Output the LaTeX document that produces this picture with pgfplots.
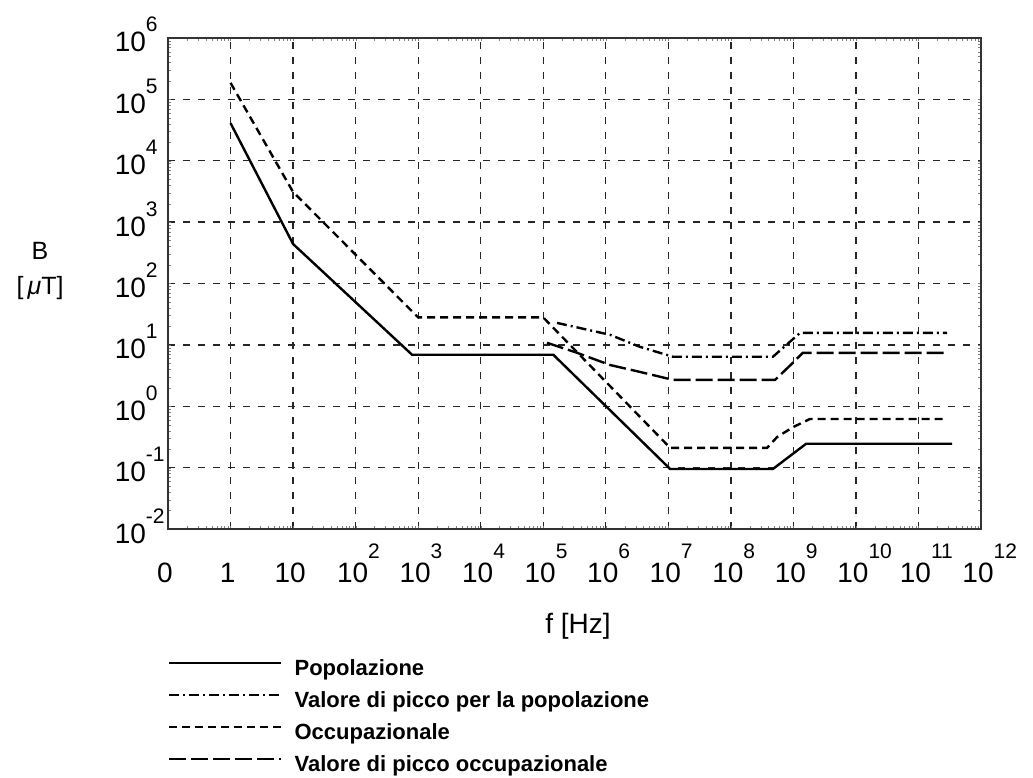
\documentclass[border=0pt]{standalone}
\usepackage{fontspec}
\setmainfont{Liberation Sans}
\usepackage{pgfplots}
\pgfplotsset{compat=1.18}

% tick labels: "10" with a raised exponent
\newcommand{\xn}[1]{\makebox[0pt][c]{#1}}
\newcommand{\xe}[1]{\makebox[0pt][c]{10\rlap{\raisebox{24pt}{\fontsize{21}{21}\selectfont #1}}}}
\newcommand{\ye}[1]{\llap{10}\rlap{\raisebox{20pt}{\fontsize{21}{21}\selectfont #1}}}

\begin{document}
\begin{tikzpicture}
\begin{axis}[
    at={(0,0)}, anchor=south west,
    scale only axis, width=813pt, height=491pt,
    xmode=log, ymode=log,
    xmin=0.1, xmax=1e12, ymin=1e-2, ymax=1e6,
    xtick={0.1,1,10,100,1e3,1e4,1e5,1e6,1e7,1e8,1e9,1e10,1e11,1e12},
    xticklabels={\xn{0},\xn{1},\xn{10},\xe{2},\xe{3},\xe{4},\xe{5},\xe{6},\xe{7},\xe{8},\xe{9},\xe{10},\xe{11},\xe{12}},
    ytick={1e-2,1e-1,1,10,100,1e3,1e4,1e5,1e6},
    yticklabels={\ye{-2},\ye{-1},\ye{0},\ye{1},\ye{2},\ye{3},\ye{4},\ye{5},\ye{6}},
    xticklabel style={anchor=base, inner sep=0pt, xshift=-3pt, yshift=-53pt, font=\fontsize{28}{30}\selectfont},
    yticklabel style={anchor=base, inner sep=0pt, xshift=-22pt, yshift=-14pt, font=\fontsize{28}{30}\selectfont},
    major tick length=0pt,
    grid=major,
    major grid style={black!85, line width=1.3pt, dash pattern=on 7pt off 8pt},
    axis line style={black!80, line width=1.6pt},
    xlabel={f [Hz]},
    xlabel style={at={(axis description cs:0.5043,0)}, anchor=base, yshift=-104pt, font=\fontsize{28}{30}\selectfont},
    ylabel={B\\{[}\,\textit{μ}T]},
    ylabel style={at={(axis description cs:-0.1574,0.5255)}, anchor=center, rotate=-90, align=center, font=\fontsize{25}{35}\selectfont},
    legend style={at={(0,-0.2648)}, anchor=north west, draw=none, fill=none,
        inner sep=0pt, row sep=11pt, column sep=12pt,
        nodes={inner sep=0pt, text height=16pt, text depth=5pt, font=\fontsize{22}{24}\selectfont\bfseries}},
    legend cell align=left,
    legend image code/.code={\draw[#1] (0pt,7pt) -- (112pt,7pt);},
]
% Popolazione
\addplot[black, line width=2.4pt] coordinates {
    (1,4.1e4) (10,440) (800,6.9) (1.45e5,6.9) (1.07e7,0.095) (4.7e8,0.095) (1.6e9,0.245) (3.44e11,0.245)
};
\addlegendentry{Popolazione}
% Valore di picco per la popolazione
\addplot[black, line width=2.4pt, dash pattern=on 10pt off 4pt on 2pt off 4pt] coordinates {
    (1.66e5,22.8) (1.17e6,14.6) (3.5e6,9.3) (1.19e7,6.4) (4.7e8,6.4) (1.28e9,15.7) (2.86e11,15.7)
};
\addlegendentry{Valore di picco per la popolazione}
% Occupazionale
\addplot[black, line width=2.4pt, dash pattern=on 8pt off 5pt] coordinates {
    (1,1.86e5) (10,3100) (1000,28) (1e5,28) (1.07e7,0.21) (3.8e8,0.21) (5.5e8,0.316) (1e9,0.46) (1.84e9,0.62) (2.45e11,0.62)
};
\addlegendentry{Occupazionale}
% Valore di picco occupazionale
\addplot[black, line width=2.4pt, dash pattern=on 17pt off 5pt] coordinates {
    (1.15e5,10.8) (3.5e5,7.4) (1.17e6,4.7) (3.5e6,3.63) (1.19e7,2.69) (5.1e8,2.69) (9.8e8,5.1) (1.41e9,7.4) (2.86e11,7.4)
};
\addlegendentry{Valore di picco occupazionale}
\end{axis}
\pgfresetboundingbox
\path (-168pt,-249pt) rectangle (865pt,529pt);
\end{tikzpicture}
\end{document}
